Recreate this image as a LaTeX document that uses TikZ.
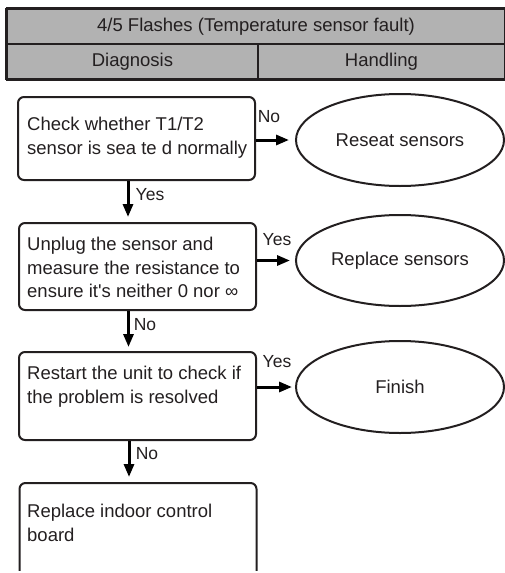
\documentclass[tikz,border=0pt]{standalone}
\usepackage{fontspec}
\setmainfont{Liberation Sans}
\usepackage{tikz}
\usetikzlibrary{arrows.meta,positioning,shapes.geometric}
\definecolor{inkdark}{HTML}{231F20}
\definecolor{headgray}{HTML}{B2B2B2}
\tikzset{
  headcell/.style={rectangle,draw=inkdark,line width=1.2pt,fill=headgray,inner sep=0pt,
    text=inkdark,font=\fontsize{18.5}{22}\selectfont},
  diagbox/.style={rectangle,draw=inkdark,line width=2pt,rounded corners=6pt,
    minimum width=237pt,inner sep=0pt},
  boxtext/.style={anchor=north west,inner sep=0pt,align=left,text=inkdark,
    font=\fontsize{18.5}{23.5}\selectfont},
  endnode/.style={ellipse,draw=inkdark,line width=2pt,minimum width=208pt,inner sep=0pt,
    text=inkdark,font=\fontsize{18.5}{22}\selectfont},
  flowarrow/.style={-{Triangle[length=13pt,width=10pt]},line width=3pt,black},
  edgelbl/.style={inner sep=0pt,text=inkdark,font=\fontsize{17.5}{20}\selectfont},
}

\begin{document}
\begin{tikzpicture}[x=1pt,y=-1pt]
    \useasboundingbox (0,0) rectangle (505,573);
    \clip (0,0) rectangle (505,570);
    % header table
    \node[headcell,minimum width=498pt,minimum height=35pt] (title) at (256,26.5)
      {4/5 Flashes (Temperature sensor fault)};
    \node[headcell,minimum width=251pt,minimum height=35pt] (diag) at (132.5,61.5) {Diagnosis};
    \node[headcell,minimum width=247pt,minimum height=35pt] (handl) at (381.5,61.5) {Handling};
    \draw[inkdark,line width=3pt] (title.north west) -- (title.north east);
    \draw[inkdark,line width=3pt] (diag.south west) -- (handl.south east);
    \draw[inkdark,line width=3pt] (diag.south west) -- (title.north west);
    % diagnosis steps
    \node[diagbox,minimum height=83pt] (b1) at (136.5,138.5) {};
    \node[diagbox,minimum height=87pt] (b2) at (137.5,266.5) {};
    \node[diagbox,minimum height=88pt] (b3) at (137.5,396) {};
    \node[diagbox,minimum height=110pt] (b4) at (138,538) {};
    \node[boxtext] (t1) at ([shift={(10,21)}]b1.north west)
      {Check whether T1/T2\\sensor is sea te d normally};
    \node[boxtext] (t2) at ([shift={(9,15)}]b2.north west)
      {Unplug the sensor and\\measure the resistance to\\ensure it\textquotesingle s neither 0 nor \symbol{"221E}};
    \node[boxtext] (t3) at ([shift={(9,15)}]b3.north west)
      {Restart the unit to check if\\the problem is resolved};
    \node[boxtext] (t4) at ([shift={(8.5,22)}]b4.north west)
      {Replace indoor control\\board};
    % handling results
    \node[endnode,minimum height=92pt] (e1) at (400,140) {Reseat sensors};
    \node[endnode,minimum height=91pt] (e2) at (400,260.5) {Replace sensors};
    \node[endnode,minimum height=92pt] (e3) at (400,387) {Finish};
    % connectors
    \draw[flowarrow,shorten >=6pt] (e1.west -| b1.east) -- (e1.west);
    \draw[flowarrow,shorten >=5pt] (e2.west -| b2.east) -- (e2.west);
    \draw[flowarrow,shorten >=3pt] (e3.west -| b3.east) -- (e3.west);
    \draw[flowarrow,shorten >=5pt] ([xshift=-8.5pt]b1.south) -- ([xshift=-9.5pt]b2.north);
    \draw[flowarrow,shorten >=4pt] ([xshift=-9pt]b2.south) -- ([xshift=-9pt]b3.north);
    \draw[flowarrow,shorten >=5pt] ([xshift=-8.5pt]b3.south) -- ([xshift=-9pt]b4.north);
    % branch labels
    \node[edgelbl] (no1) at (269,117) {No};
    \node[edgelbl] (yes1) at (150,195) {Yes};
    \node[edgelbl] (yes2) at (277,240) {Yes};
    \node[edgelbl] (no2) at (145,325) {No};
    \node[edgelbl] (yes3) at (277,362) {Yes};
    \node[edgelbl] (no3) at (147,454) {No};
\end{tikzpicture}
\end{document}
